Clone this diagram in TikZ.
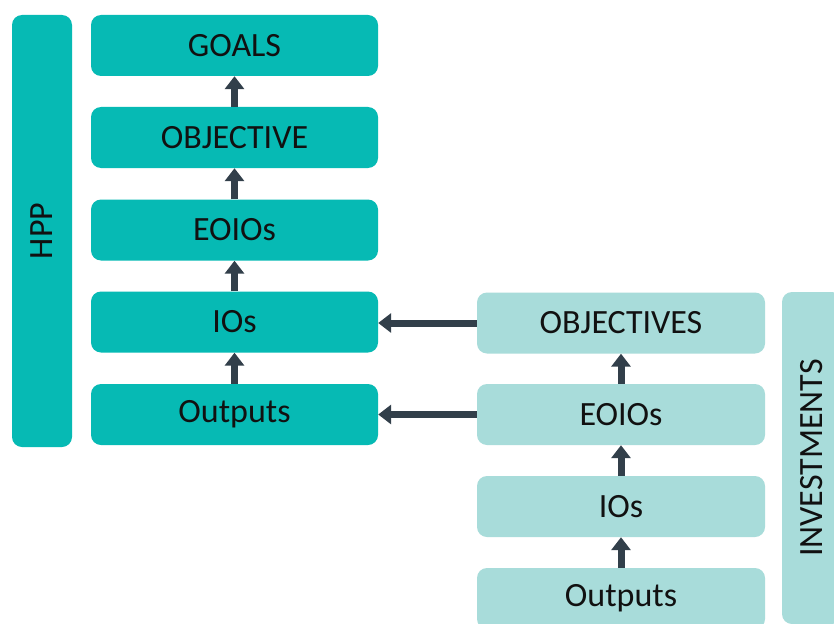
\documentclass[tikz,border=0pt]{standalone}
\usepackage{fontspec}
\setmainfont{Carlito}
\usetikzlibrary{arrows.meta}
\definecolor{tealdark}{RGB}{6,186,180}
\definecolor{teallight}{RGB}{168,220,218}
\definecolor{arrowc}{RGB}{50,63,74}
\definecolor{txt}{RGB}{17,17,17}
\tikzset{
  box/.style={rectangle, rounded corners=10pt, minimum height=61pt, inner sep=0pt, text=txt, font=\fontsize{34}{40}\selectfont},
  hbox/.style={box, fill=tealdark, minimum width=287pt},
  ibox/.style={box, fill=teallight, minimum width=288pt},
  bar/.style={rectangle, rounded corners=10pt, minimum width=60pt, inner sep=0pt, text=txt, font=\fontsize{34}{40}\selectfont},
  arr/.style={draw=arrowc, line width=7pt, -{Triangle[length=13pt,width=19pt]}},
}
\begin{document}
\begin{tikzpicture}[x=1pt,y=-1pt]
\useasboundingbox (0,0) rectangle (834,623);
\clip (0,0) rectangle (834,623);
\fill[white] (0,0) rectangle (834,623);
% HPP side
\node[bar, fill=tealdark, minimum height=432pt] (hpp) at (42,231) {\rotatebox{90}{HPP}};
\node[hbox] (g1) at (234.5,45.5) {GOALS};
\node[hbox] (g2) at (234.5,137.5) {OBJECTIVE};
\node[hbox] (g3) at (234.5,230) {EOIOs};
\node[hbox] (g4) at (234.5,322) {IOs};
\node[hbox] (g5) at (234.5,414.5) {Outputs};
% Investments side
\node[bar, fill=teallight, minimum height=332pt] (inv) at (812,458) {\rotatebox{90}{INVESTMENTS}};
\node[ibox] (i1) at (621,323) {OBJECTIVES};
\node[ibox] (i2) at (621,414.5) {EOIOs};
\node[ibox] (i3) at (621,506.5) {IOs};
\node[ibox] (i4) at (621,598.5) {Outputs};
% arrows
\draw[arr] (g2.north) -- (g1.south);
\draw[arr] (g3.north) -- (g2.south);
\draw[arr] (g4.north) -- (g3.south);
\draw[arr] (g5.north) -- (g4.south);
\draw[arr] (i2.north) -- (i1.south);
\draw[arr] (i3.north) -- (i2.south);
\draw[arr] (i4.north) -- (i3.south);
\draw[arr] (i1.west) -- (g4.east |- i1.west);
\draw[arr] (i2.west) -- (g5.east);
\end{tikzpicture}
\end{document}
